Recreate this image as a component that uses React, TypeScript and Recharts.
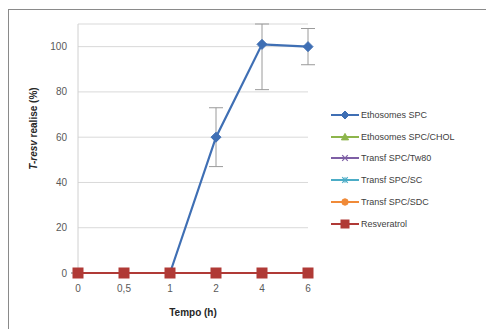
import React from 'react';
import { LineChart, Line, XAxis, YAxis, CartesianGrid, ErrorBar, Legend, Label } from 'recharts';

const categories = ['0', '0,5', '1', '2', '4', '6'];
const ethosomesSPC = [0, 0, 0, 60, 101, 100];
const ethosomesSPCErrLow = [0, 0, 0, 13, 20, 8];
const ethosomesSPCErrHigh = [0, 0, 0, 13, 9, 8];
const ethosomesSPCCHOL = [0, 0, 0, 0, 0, 0];
const transfTw80 = [0, 0, 0, 0, 0, 0];
const transfSC = [0, 0, 0, 0, 0, 0];
const transfSDC = [0, 0, 0, 0, 0, 0];
const resveratrol = [0, 0, 0, 0, 0, 0];
const yTicks = [0, 20, 40, 60, 80, 100];

const data = categories.map((c, i) => ({
  t: c,
  spc: ethosomesSPC[i],
  spcErr: [ethosomesSPCErrLow[i], ethosomesSPCErrHigh[i]],
  chol: ethosomesSPCCHOL[i],
  tw80: transfTw80[i],
  sc: transfSC[i],
  sdc: transfSDC[i],
  res: resveratrol[i],
}));

type Shape = 'diamond' | 'triangle' | 'x' | 'star' | 'circle' | 'square';

const series: { key: string; name: string; color: string; shape: Shape }[] = [
  { key: 'spc', name: 'Ethosomes SPC', color: '#3F6FB4', shape: 'diamond' },
  { key: 'chol', name: 'Ethosomes SPC/CHOL', color: '#8DB54B', shape: 'triangle' },
  { key: 'tw80', name: 'Transf SPC/Tw80', color: '#7E5FA5', shape: 'x' },
  { key: 'sc', name: 'Transf SPC/SC', color: '#4BACC6', shape: 'star' },
  { key: 'sdc', name: 'Transf SPC/SDC', color: '#F08A38', shape: 'circle' },
  { key: 'res', name: 'Resveratrol', color: '#B03A36', shape: 'square' },
];

function Marker({ cx, cy, shape, color, s = 1 }: { cx: number; cy: number; shape: Shape; color: string; s?: number }) {
  if (cx == null || cy == null || isNaN(cx) || isNaN(cy)) return null;
  switch (shape) {
    case 'diamond': {
      const r = 5 * s;
      return <polygon points={`${cx},${cy - r} ${cx + r},${cy} ${cx},${cy + r} ${cx - r},${cy}`} fill={color} stroke={color} />;
    }
    case 'triangle': {
      const r = 4.5 * s;
      return <polygon points={`${cx},${cy - r} ${cx + r},${cy + r * 0.8} ${cx - r},${cy + r * 0.8}`} fill={color} stroke={color} />;
    }
    case 'x': {
      const r = 3.5 * s;
      return (
        <g stroke={color} strokeWidth={1.2}>
          <line x1={cx - r} y1={cy - r} x2={cx + r} y2={cy + r} />
          <line x1={cx - r} y1={cy + r} x2={cx + r} y2={cy - r} />
        </g>
      );
    }
    case 'star': {
      const r = 3.5 * s;
      return (
        <g stroke={color} strokeWidth={1.2}>
          <line x1={cx - r} y1={cy - r} x2={cx + r} y2={cy + r} />
          <line x1={cx - r} y1={cy + r} x2={cx + r} y2={cy - r} />
          <line x1={cx} y1={cy - r} x2={cx} y2={cy + r} />
        </g>
      );
    }
    case 'circle':
      return <circle cx={cx} cy={cy} r={4 * s} fill={color} stroke={color} />;
    case 'square': {
      const r = 5 * s;
      return <rect x={cx - r} y={cy - r} width={2 * r} height={2 * r} fill={color} stroke={color} />;
    }
  }
  return null;
}

const font = '"Liberation Sans", Arial, sans-serif';

function LegendContent() {
  return (
    <div style={{ fontFamily: font, fontSize: 9, color: '#404040' }}>
      {series.map((s) => (
        <div key={s.key} style={{ display: 'flex', alignItems: 'center', height: 21.8 }}>
          <svg width={30} height={12} style={{ flex: 'none' }}>
            <line x1={1} y1={6} x2={29} y2={6} stroke={s.color} strokeWidth={2} />
            <Marker cx={15} cy={6} shape={s.shape} color={s.color} s={0.8} />
          </svg>
          <span style={{ marginLeft: 1, whiteSpace: 'nowrap' }}>{s.name}</span>
        </div>
      ))}
    </div>
  );
}

export default function App() {
  return (
    <div style={{ position: 'absolute', left: 0, top: 0, width: 486, height: 329, background: '#fff', overflow: 'hidden' }}>
      <div style={{ position: 'absolute', left: 8, top: 9, width: 520, height: 360, border: '1.5px solid #8a8a8a', boxSizing: 'border-box' }} />
      <LineChart
        width={486}
        height={329}
        data={data}
        margin={{ top: 24, right: 178, bottom: 12, left: 48 }}
        style={{ position: 'absolute', left: 0, top: 0 }}
      >
        <CartesianGrid vertical={false} stroke="#d9d9d9" strokeWidth={1} />
        <XAxis
          dataKey="t"
          axisLine={false}
          tickLine={false}
          height={44}
          tickMargin={6}
          tick={{ fill: '#595959', fontSize: 10, fontFamily: font }}
          interval={0}
        >
          <Label
            value="Tempo (h)"
            position="insideBottom"
            offset={1}
            style={{ fill: '#262626', fontSize: 10, fontWeight: 'bold', fontFamily: font }}
          />
        </XAxis>
        <YAxis
          type="number"
          domain={[0, 110]}
          ticks={yTicks}
          width={30}
          axisLine={{ stroke: '#d0d0d0' }}
          tickLine={false}
          tickMargin={5}
          tick={{ fill: '#595959', fontSize: 10, fontFamily: font }}
        >
          <Label
            content={(props: any) => {
              const vb = props.viewBox || {};
              const cx = 33;
              const cy = vb.y + vb.height / 2 - 20;
              return (
                <text
                  x={cx}
                  y={cy}
                  transform={`rotate(-90 ${cx} ${cy})`}
                  textAnchor="middle"
                  dominantBaseline="central"
                  style={{ fill: '#262626', fontSize: 10, fontWeight: 'bold', fontFamily: font }}
                >
                  <tspan fontStyle="italic">T-resv</tspan> realise (%)
                </text>
              );
            }}
          />
        </YAxis>
        <Legend
          layout="vertical"
          align="center"
          verticalAlign="middle"
          content={<LegendContent />}
          wrapperStyle={{ left: 330, top: 104, width: 150 }}
        />
        {series.map((s) => (
          <Line
            key={s.key}
            dataKey={s.key}
            name={s.name}
            stroke={s.color}
            strokeWidth={2.2}
            isAnimationActive={false}
            dot={(p: any) => <Marker key={`${s.key}-${p.index}`} cx={p.cx} cy={p.cy} shape={s.shape} color={s.color} />}
            activeDot={false}
          >
            {s.key === 'spc' && (
              <ErrorBar dataKey="spcErr" width={7} stroke="#9a9a9a" strokeWidth={1} direction="y" />
            )}
          </Line>
        ))}
      </LineChart>
    </div>
  );
}
